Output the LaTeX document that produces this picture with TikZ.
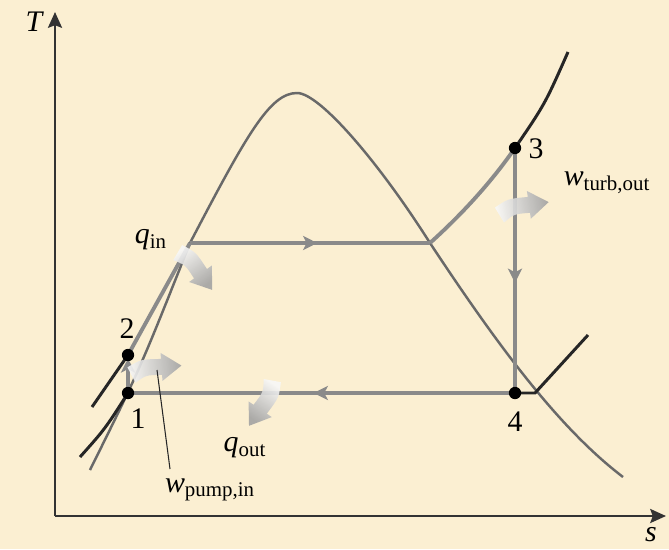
\documentclass[tikz,border=0pt]{standalone}
\usepackage{fontspec}
\setmainfont{Liberation Serif}
\usepackage{tikz}
\usetikzlibrary{arrows.meta,positioning,calc,decorations.markings}
\definecolor{paper}{RGB}{251,239,210}
\definecolor{cyclegray}{RGB}{138,138,138}
\definecolor{domegray}{RGB}{105,105,105}
\newcommand{\symsub}[2]{\textit{#1}\textsubscript{#2}}

\begin{document}
\begin{tikzpicture}[x=0.02cm, y=0.02cm,
        axis/.style={draw=black!80, line width=1.3pt,
                     -{Stealth[length=9pt,width=8pt,inset=1.5pt]}},
        dome/.style={draw=domegray, line width=1.4pt},
        cyc/.style={draw=cyclegray, line width=2.2pt},
        isobar/.style={draw=black!85, line width=1.7pt},
        midarr/.style={postaction={decorate},
                       decoration={markings, mark=at position #1 with
                         {\arrow{Stealth[length=8pt,width=8pt,inset=2pt,color=cyclegray]}}}},
        state/.style={circle, fill=black, inner sep=0pt, minimum size=7pt},
        lbl/.style={font=\fontsize{17}{20}\selectfont, inner sep=1pt},
        fatangle/.store in=\fatang, fatangle=90,
        fatarr/.pic={
          \shade[left color=gray!6, right color=gray!72, shading angle=\fatang,
                 fill opacity=0.9]
            (3,-8) .. controls (14,-1) .. (30,-2) -- (30,-8) -- (50,6)
            -- (30,20) -- (30,14) .. controls (10,15) .. (-4,8) -- cycle;
        }
      ]
        \fill[paper] (0,0) rectangle (669,549);
        \useasboundingbox (0,0) rectangle (669,549);

        \coordinate (o) at (55,33);
        \coordinate (tend) at (55,537);
        \coordinate (send) at (666,33);
        \coordinate (c1) at (128,156);
        \coordinate (c2) at (128,194);
        \coordinate (c3) at (515,401);
        \coordinate (c4) at (515,156);
        \coordinate (f) at (190,306);
        \coordinate (g) at (430,306);
        \coordinate (x4) at (535,156);
        \coordinate (top) at (297,456);

        \draw[axis] (o) -- (tend);
        \draw[axis] (o) -- (send);
        \node[lbl, font=\fontsize{17}{20}\selectfont\itshape] (tlab) at (34,527) {T};
        \node[lbl, font=\fontsize{17}{20}\selectfont\itshape] (slab) at (651,14) {s};

        \draw[dome] (90,79) .. controls (140,180) .. (f)
          .. controls (247,415) and (270,456) .. (top)
          .. controls (320,456) and (380,385) .. (g)
          .. controls (500,200) and (560,120) .. (623,72);

        \draw[cyc] (c2) -- (f);
        \draw[cyc, midarr=0.53] (f) -- (g);
        \draw[cyc] (g) .. controls (460,333) and (490,365) .. (c3);
        \draw[cyc, midarr=0.55] (c3) -- (c4);
        \draw[cyc, midarr=0.52] (c4) -- (c1);
        \draw[cyc, -{Stealth[length=8pt,width=8pt,inset=2pt]}, shorten >=2pt] (c1) -- (c2);

        \draw[isobar] (c3) .. controls (545,445) .. (568,497);
        \draw[isobar] (c4) -- (x4) -- (588,214);
        \draw[isobar] (c2) -- (92,142);
        \draw[isobar] (c1) .. controls (105,120) .. (80,92);

        \pic[rotate=-54, fatangle=36] at (178,296) {fatarr};
        \pic[rotate=4, fatangle=94] at (132,174) {fatarr};
        \pic[rotate=8, fatangle=98] at (500,334) {fatarr};
        \pic[rotate=-124, fatangle=-34] at (272,168) {fatarr};

        \node[state] (n1) at (c1) {};
        \node[state] (n2) at (c2) {};
        \node[state] (n3) at (c3) {};
        \node[state] (n4) at (c4) {};

        \node[lbl] (l1) at (138,130) {1};
        \node[lbl] (l2) at (127,220) {2};
        \node[lbl] (l3) at (536,400) {3};
        \node[lbl] (l4) at (515,127) {4};

        \node[lbl] (qin) at (151,309) {\symsub{q}{in}};
        \node[lbl] (qout) at (245,101) {\symsub{q}{out}};
        \node[lbl] (wturb) at (607,366) {\symsub{w}{turb,out}};
        \node[lbl] (wpump) at (210,59) {\symsub{w}{pump,in}};

        \coordinate (lead) at (157,179);
        \coordinate (leadtip) at (170,80);
        \draw[black!85, line width=0.6pt] (lead) -- (leadtip);
      \end{tikzpicture}
\end{document}
